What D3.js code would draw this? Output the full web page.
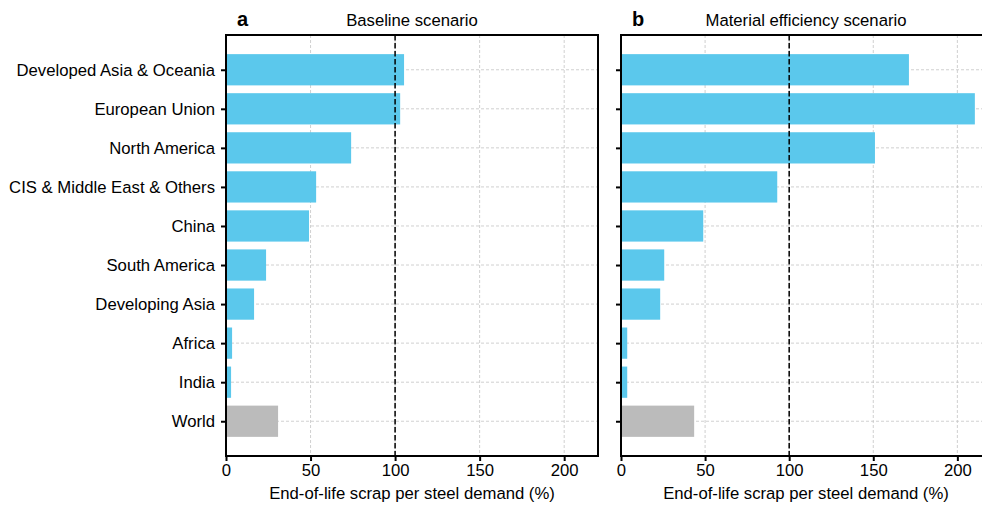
<!DOCTYPE html>
<html><head><meta charset="utf-8">
<script src="https://cdn.jsdelivr.net/npm/d3@7"></script>
<style>body{margin:0;background:#fff}svg{display:block;font-family:"Liberation Sans",Arial,sans-serif}</style>
</head><body><svg id="c" width="982" height="505"></svg>
<script>
const regions = ["Developed Asia & Oceania","European Union","North America","CIS & Middle East & Others","China","South America","Developing Asia","Africa","India","World"];
const baseline = [105.3,103,74,53.3,49.1,23.7,16.6,3.6,3.0,30.8];
const materialEff = [171.2,210.4,151,92.9,48.9,25.7,23.3,3.7,3.7,43.5];
const xTicks = [0,50,100,150,200];
const panelLetters = ["a","b"];
const panelTitles = ["Baseline scenario","Material efficiency scenario"];
const xLabel = "End-of-life scrap per steel demand (%)";
const refLine = 100;

const svg = d3.select("#c");
const plotTop = 35, plotBottom = 456;
const fs = 16.7;
const panels = [
  {left:226, right:598, data:baseline, showLabels:true},
  {left:621, right:991, data:materialEff, showLabels:false}
];
const blue = "#5bc8ec", grey = "#bbbbbb";

panels.forEach((p, pi) => {
  const x = d3.scaleLinear().domain([0,220]).range([p.left,p.right]);
  const y = d3.scaleLinear().domain([-0.89, regions.length - 1 + 0.89]).range([plotTop,plotBottom]);
  const g = svg.append("g");
  g.selectAll(".gx").data(xTicks).join("line")
    .attr("x1",d=>x(d)).attr("x2",d=>x(d)).attr("y1",plotTop).attr("y2",plotBottom)
    .attr("stroke","#c4c4c4").attr("stroke-width",0.8).attr("stroke-dasharray","3,2");
  g.selectAll(".gy").data(regions).join("line")
    .attr("x1",p.left).attr("x2",p.right).attr("y1",(d,i)=>y(i)).attr("y2",(d,i)=>y(i))
    .attr("stroke","#c4c4c4").attr("stroke-width",0.8).attr("stroke-dasharray","3,2");
  const bh = y(0.4) - y(-0.4);
  g.selectAll(".bar").data(p.data).join("rect")
    .attr("x",x(0)).attr("y",(d,i)=>y(i-0.4))
    .attr("width",d=>x(d)-x(0)).attr("height",bh)
    .attr("fill",(d,i)=> regions[i]==="World" ? grey : blue);
  g.append("line").attr("x1",x(refLine)).attr("x2",x(refLine)).attr("y1",plotTop).attr("y2",plotBottom)
    .attr("stroke","#000").attr("stroke-width",1.5).attr("stroke-dasharray","5.5,2.5");
  const xa = g.append("g").attr("transform",`translate(0,${plotBottom})`)
    .call(d3.axisBottom(x).tickValues(xTicks).tickSize(5).tickPadding(3).tickFormat(d3.format("d")));
  xa.select(".domain").remove();
  xa.selectAll("line").attr("stroke-width",2);
  xa.selectAll("text").attr("font-size",fs).attr("fill","#000").attr("font-family","Liberation Sans, Arial, sans-serif");
  const ya = g.append("g").attr("transform",`translate(${p.left},0)`)
    .call(d3.axisLeft(y).tickValues(d3.range(regions.length)).tickSize(5).tickPadding(6)
      .tickFormat(i => p.showLabels ? regions[i] : ""));
  ya.select(".domain").remove();
  ya.selectAll("line").attr("stroke-width",2);
  ya.selectAll("text").attr("font-size",fs).attr("fill","#000").attr("font-family","Liberation Sans, Arial, sans-serif");
  g.append("rect").attr("x",p.left).attr("y",plotTop).attr("width",p.right-p.left).attr("height",plotBottom-plotTop)
    .attr("fill","none").attr("stroke","#000").attr("stroke-width",2);
  const cx = (p.left+p.right)/2;
  svg.append("text").attr("x",cx).attr("y",26).attr("text-anchor","middle")
    .attr("font-size",fs).text(panelTitles[pi]);
  svg.append("text").attr("x",p.left+11).attr("y",26).attr("font-size",20).attr("font-weight","bold")
    .text(panelLetters[pi]);
  svg.append("text").attr("x",cx).attr("y",499).attr("text-anchor","middle")
    .attr("font-size",fs).text(xLabel);
});
</script></body></html>
